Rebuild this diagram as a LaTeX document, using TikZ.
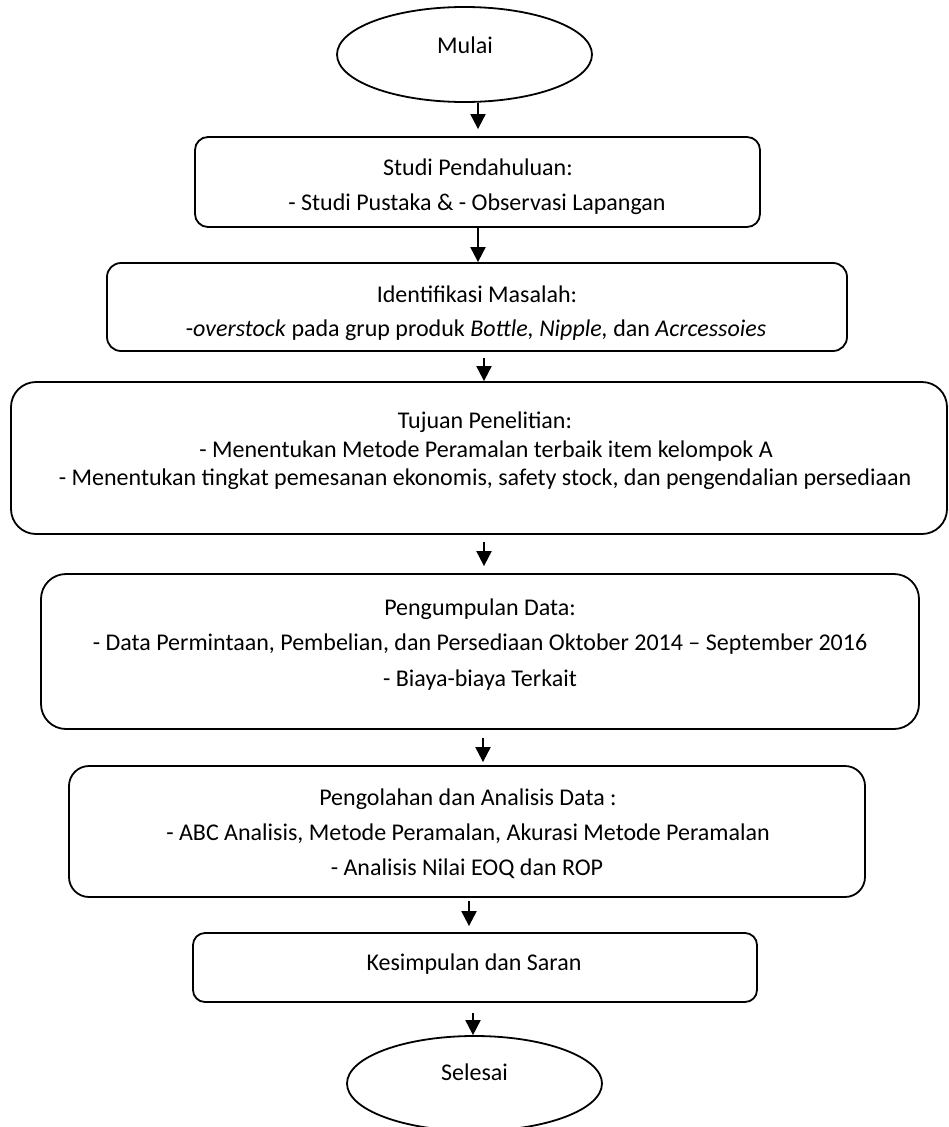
\documentclass[tikz,border=0pt]{standalone}
\usepackage{fontspec}
\setmainfont{Carlito}
\usetikzlibrary{arrows.meta,shapes.geometric}
\begin{document}
\begin{tikzpicture}[x=1pt,y=-1pt,
  font=\fontsize{24}{29}\selectfont,
  box/.style={draw, line width=1.8pt, rounded corners=#1, inner sep=0pt},
  term/.style={draw, ellipse, line width=1.8pt, minimum width=255pt, minimum height=95pt, inner sep=0pt},
  arr/.style={line width=2pt, -{Triangle[width=15pt,length=15pt]}},
  lbl/.style={anchor=base, inner sep=0pt}]
\useasboundingbox (0,0) rectangle (949,1127);

% terminals
\node[term] (m) at (464.5,54.5) {};
\node[term] (s) at (474.5,1083.5) {};

% boxes
\node[box=13pt, minimum width=565pt, minimum height=90pt]  (b1) at (477.5,182) {};
\node[box=14pt, minimum width=740pt, minimum height=88pt]  (b2) at (477,307) {};
\node[box=25pt, minimum width=936pt, minimum height=152pt] (b3) at (479,458) {};
\node[box=25pt, minimum width=878pt, minimum height=155pt] (b4) at (480,651.5) {};
\node[box=20pt, minimum width=796pt, minimum height=131pt] (b5) at (467,831.5) {};
\node[box=12pt, minimum width=564pt, minimum height=69pt]  (b6) at (475,967.5) {};

% texts
\node[lbl] (tm) at (465,53) {Mulai};
\node[lbl] (t1a) at (478,175) {Studi Pendahuluan:};
\node[lbl] (t1b) at (477,210) {- Studi Pustaka \& - Observasi Lapangan};
\node[lbl] (t2a) at (477,302) {Identifikasi Masalah:};
\node[lbl] (t2b) at (476,336) {-\textit{overstock} pada grup produk \textit{Bottle, Nipple,} dan \textit{Acrcessoies}};
\node[lbl] (t3a) at (485,428) {Tujuan Penelitian:};
\node[lbl] (t3b) at (486,457) {- Menentukan Metode Peramalan terbaik item kelompok A};
\node[lbl] (t3c) at (485,485) {- Menentukan tingkat pemesanan ekonomis, safety stock, dan pengendalian persediaan};
\node[lbl] (t4a) at (480,615) {Pengumpulan Data:};
\node[lbl] (t4b) at (480,650) {- Data Permintaan, Pembelian, dan Persediaan Oktober 2014 – September 2016};
\node[lbl] (t4c) at (480,686) {- Biaya-biaya Terkait};
\node[lbl] (t5a) at (468,805) {Pengolahan dan Analisis Data :};
\node[lbl] (t5b) at (468,840) {- ABC Analisis, Metode Peramalan, Akurasi Metode Peramalan};
\node[lbl] (t5c) at (467,875) {- Analisis Nilai EOQ dan ROP};
\node[lbl] (t6a) at (474,970) {Kesimpulan dan Saran};
\node[lbl] (ts) at (474.5,1080) {Selesai};

% connector lines
\coordinate (ax1) at (478,0);
\coordinate (ax3) at (484,0);
\coordinate (ax5) at (483,0);
\coordinate (ax6) at (469,0);
\coordinate (ax7) at (473,0);
\draw[arr, shorten >=7pt] (ax1 |- m.south) -- (ax1 |- b1.north);
\draw[arr] (ax1 |- b1.south) -- (ax1 |- b2.north);
\draw[arr, shorten <=6pt] (ax3 |- b2.south) -- (ax3 |- b3.north);
\draw[arr, shorten <=7pt, shorten >=7pt] (ax3 |- b3.south) -- (ax3 |- b4.north);
\draw[arr, shorten <=8pt, shorten >=3pt] (ax5 |- b4.south) -- (ax5 |- b5.north);
\draw[arr, shorten <=3pt, shorten >=6pt] (ax6 |- b5.south) -- (ax6 |- b6.north);
\draw[arr, shorten <=10pt] (ax7 |- b6.south) -- (ax7 |- s.north);
\end{tikzpicture}
\end{document}
